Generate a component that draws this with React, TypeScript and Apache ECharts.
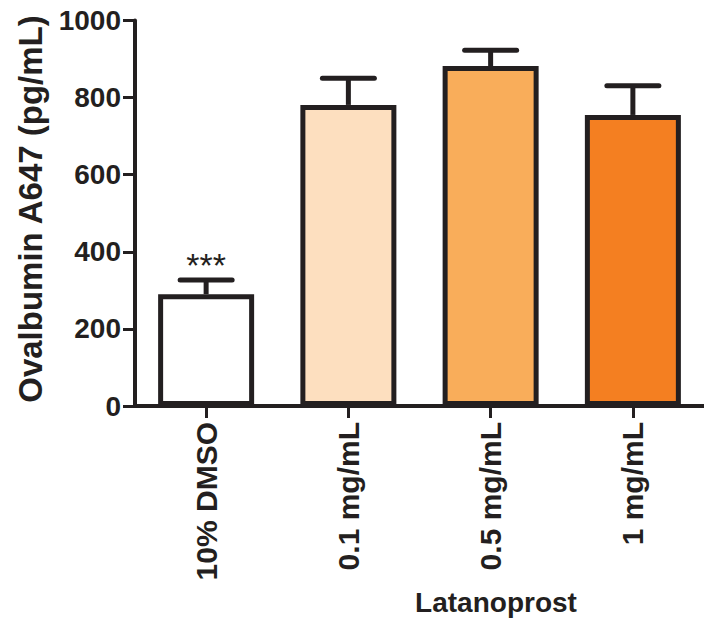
import React, { useEffect, useRef } from "react";
import * as echarts from "echarts";

const categories = ["10% DMSO", "0.1 mg/mL", "0.5 mg/mL", "1 mg/mL"];
const means = [290, 781, 882, 755];
const sems = [37, 69, 41, 76];
const significance = ["***", "", "", ""];
const barColors = ["#FFFFFF", "#FDDFBF", "#F9AD5A", "#F47F21"];
const yMin = 0;
const yMax = 1000;
const yInterval = 200;
const yTitle = "Ovalbumin A647 (pg/mL)";
const xTitle = "Latanoprost";

const INK = "#231F20";
const FONT = "'Liberation Sans', Arial, Helvetica, sans-serif";

export default function App() {
  const ref = useRef<HTMLDivElement>(null);
  useEffect(() => {
    if (!ref.current) return;
    const chart = echarts.init(ref.current, undefined, { renderer: "svg" });
    chart.setOption({
      animation: false,
      backgroundColor: "#FFFFFF",
      grid: { left: 135, top: 20.5, bottom: 213, right: -9, containLabel: false },
      xAxis: {
        type: "category",
        data: categories,
        boundaryGap: true,
        axisLine: { show: true, lineStyle: { color: INK, width: 4 } },
        axisTick: { show: true, alignWithLabel: true, length: 12, lineStyle: { color: INK, width: 3 } },
        axisLabel: {
          rotate: 90,
          margin: 16,
          color: INK,
          fontFamily: FONT,
          fontWeight: "bold",
          fontSize: 30,
        },
        splitLine: { show: false },
      },
      yAxis: {
        type: "value",
        min: yMin,
        max: yMax,
        interval: yInterval,
        axisLine: { show: true, lineStyle: { color: INK, width: 4 } },
        axisTick: { show: true, length: 12, lineStyle: { color: INK, width: 3 } },
        axisLabel: {
          margin: 14,
          color: INK,
          fontFamily: FONT,
          fontWeight: "bold",
          fontSize: 28,
          formatter: (v: number) => String(v),
        },
        splitLine: { show: false },
      },
      graphic: [
        {
          type: "text",
          x: 30,
          y: 209,
          rotation: Math.PI / 2,
          style: {
            text: yTitle,
            fill: INK,
            font: `bold 33px ${FONT}`,
            align: "center",
            verticalAlign: "middle",
          },
        },
        {
          type: "text",
          x: 496,
          y: 602,
          style: {
            text: xTitle,
            fill: INK,
            font: `bold 28px ${FONT}`,
            align: "center",
            verticalAlign: "middle",
          },
        },
      ],
      series: [
        {
          type: "bar",
          barWidth: 96,
          data: means.map((v, i) => ({
            value: v,
            itemStyle: { color: barColors[i], borderColor: INK, borderWidth: 5 },
          })),
          z: 2,
        },
        {
          type: "custom",
          z: 3,
          data: means.map((m, i) => [i, m, sems[i]]),
          renderItem: (params: any, api: any) => {
            const i = api.value(0);
            const m = api.value(1);
            const e = api.value(2);
            const base = api.coord([i, m]);
            const top = api.coord([i, m + e]);
            const half = 26;
            const children: any[] = [
              {
                type: "line",
                shape: { x1: base[0], y1: base[1], x2: top[0], y2: top[1] },
                style: { stroke: INK, lineWidth: 5 },
              },
              {
                type: "line",
                shape: { x1: top[0] - half, y1: top[1], x2: top[0] + half, y2: top[1] },
                style: { stroke: INK, lineWidth: 5, lineCap: "round" },
              },
            ];
            const sig = significance[params.dataIndex];
            if (sig) {
              children.push({
                type: "text",
                x: top[0],
                y: top[1] + 2,
                style: {
                  text: sig,
                  fill: INK,
                  font: `34px ${FONT}`,
                  align: "center",
                  verticalAlign: "bottom",
                },
              });
            }
            return { type: "group", children };
          },
        },
      ],
    });
    return () => chart.dispose();
  }, []);
  return (
    <div
      ref={ref}
      style={{ position: "absolute", left: 0, top: 0, width: 704, height: 619 }}
    />
  );
}
